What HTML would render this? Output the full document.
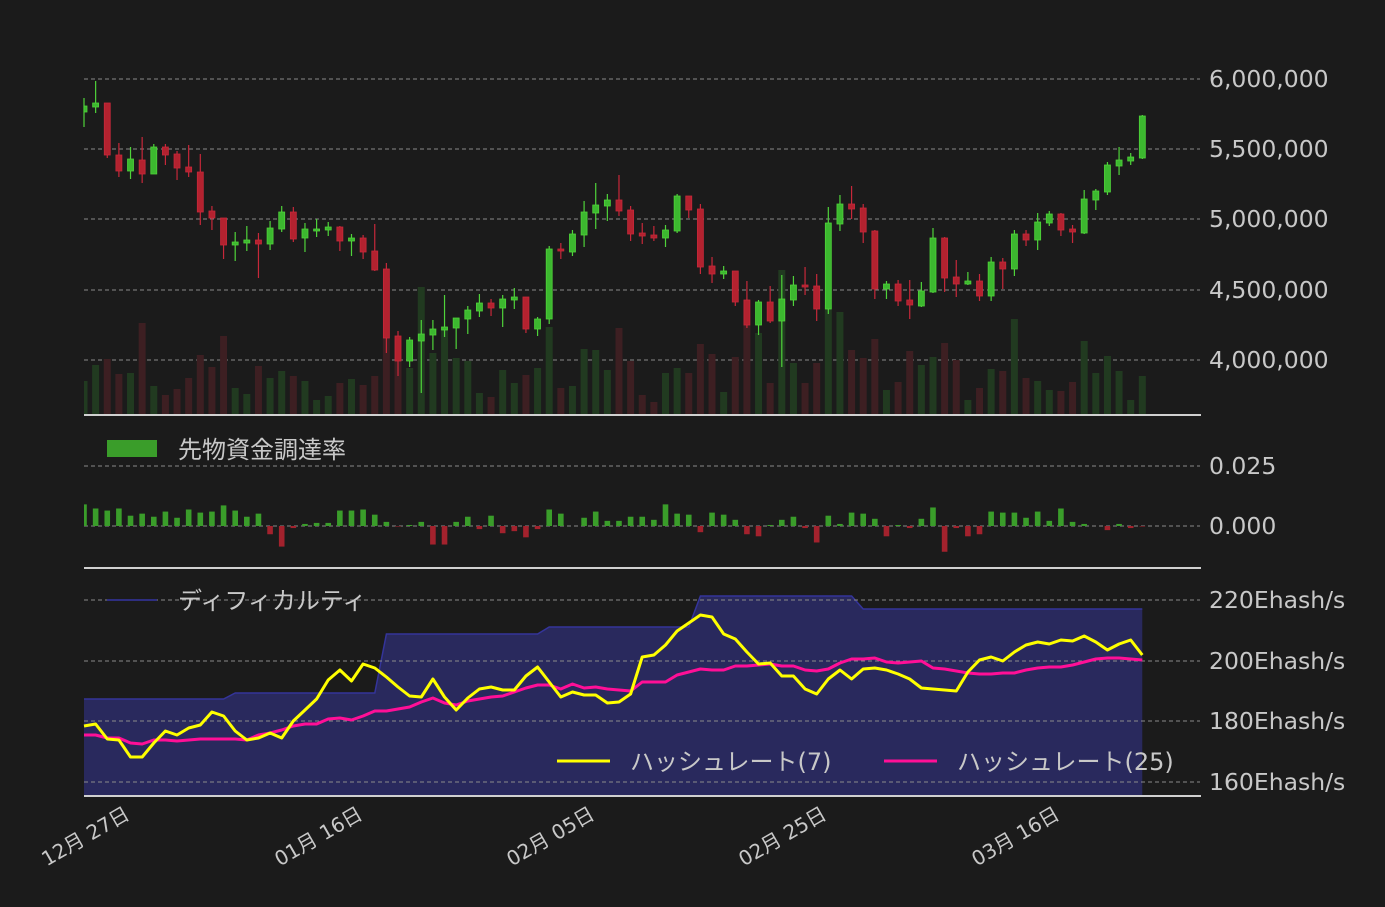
<!DOCTYPE html>
<html><head><meta charset="utf-8">
<style>
html,body{margin:0;padding:0;background:#1b1b1b;}
svg{display:block;}
text{font-family:"DejaVu Sans","Noto Sans CJK JP",sans-serif;fill:#c8c8c8;}
</style></head>
<body>
<svg id="s" width="1385" height="907" xmlns="http://www.w3.org/2000/svg">
<rect width="1385" height="907" fill="#1b1b1b"/>
<g id="g"></g>
<g font-size="23.5">
<text x="1209" y="87">6,000,000</text>
<text x="1209" y="157">5,500,000</text>
<text x="1209" y="227">5,000,000</text>
<text x="1209" y="298">4,500,000</text>
<text x="1209" y="368">4,000,000</text>
<text x="1209" y="474">0.025</text>
<text x="1209" y="534">0.000</text>
<text x="1209" y="608">220Ehash/s</text>
<text x="1209" y="669">200Ehash/s</text>
<text x="1209" y="729">180Ehash/s</text>
<text x="1209" y="790">160Ehash/s</text>
</g>
<g font-size="24">
<rect x="107" y="440" width="50" height="17" fill="#3a9d2a"/>
<text x="178" y="458">先物資金調達率</text>
<line x1="107" y1="600" x2="157" y2="600" stroke="#2e2e80" stroke-width="2"/>
<text x="178" y="609">ディフィカルティ</text>
<line x1="557" y1="761" x2="610" y2="761" stroke="#ffff00" stroke-width="3"/>
<text x="630" y="770">ハッシュレート(7)</text>
<line x1="884" y1="761" x2="937" y2="761" stroke="#ff0f97" stroke-width="3"/>
<text x="957" y="770">ハッシュレート(25)</text>
</g>
<g font-size="20">
<text transform="translate(131,818) rotate(-30)" text-anchor="end">12月 27日</text>
<text transform="translate(364,818) rotate(-30)" text-anchor="end">01月 16日</text>
<text transform="translate(596,818) rotate(-30)" text-anchor="end">02月 05日</text>
<text transform="translate(828,818) rotate(-30)" text-anchor="end">02月 25日</text>
<text transform="translate(1061,818) rotate(-30)" text-anchor="end">03月 16日</text>
</g>
</svg>
<script>
var C=[[112,106,98,127],[107,103,81,113],[103,155,103,158],[155,171,143,177],[171,159,147,179],[160,174,137,183],[174,147,144,174],[147,155,144,165],[154,168,151,180],[167,172,145,177],[172,212,154,225],[211,218,206,230],[218,245,218,259],[245,242,232,261],[243,240,226,251],[240,244,233,278],[244,228,221,250],[229,212,206,232],[212,239,207,242],[238,229,223,252],[230,229,219,237],[230,227,222,236],[227,241,226,251],[241,238,234,256],[238,252,235,259],[251,270,224,271],[269,338,263,353],[336,361,331,376],[361,340,337,367],[341,334,320,393],[335,329,320,350],[330,327,295,337],[328,318,318,349],[319,310,306,334],[311,303,294,317],[303,308,299,316],[308,299,295,327],[300,297,288,309],[297,329,297,333],[329,319,317,336],[319,249,246,324],[249,251,243,259],[252,234,230,256],[235,212,201,247],[213,205,183,229],[206,200,194,221],[200,211,175,216],[210,234,206,241],[233,236,223,244],[235,238,226,241],[238,230,225,247],[231,196,194,233],[196,210,196,218],[209,267,204,274],[266,274,257,283],[274,271,266,279],[271,302,271,306],[300,325,281,328],[325,302,300,335],[302,321,286,323],[321,299,275,367],[300,285,276,306],[285,287,267,295],[286,309,274,321],[309,223,207,314],[224,204,195,231],[204,209,186,219],[208,232,204,243],[231,289,230,299],[289,284,281,299],[284,301,280,306],[300,305,280,319],[306,291,282,307],[292,238,228,293],[238,278,237,292],[277,284,260,297],[284,281,272,285],[281,296,274,301],[296,262,257,301],[262,269,258,289],[269,234,230,276],[234,240,230,246],[240,222,213,250],[223,214,211,226],[214,230,213,236],[229,232,225,243],[233,199,190,234],[200,191,189,210],[192,165,162,195],[166,160,147,175],[161,157,153,165],[158,116,115,159]];
var V=[381,365,359,374,373,323,386,395,389,378,355,367,336,388,394,366,378,371,376,381,400,396,383,379,385,376,278,340,368,287,353,330,358,361,393,397,370,383,375,368,327,388,386,349,350,370,328,361,395,402,373,368,373,344,354,392,357,325,333,383,270,363,383,363,305,312,350,358,339,390,382,351,365,357,343,360,400,388,369,371,319,378,381,390,391,382,341,373,356,371,400,376];
var F=[21,17,15,17,10,12,9,14,8,16,13,14,20,15,9,12,-8,-20,-2,2,3,3,15,15,16,11,4,-0.5,1,4,-18,-18,4,9,-3,10,-7,-5,-11,-3,16,12,0,8,14,5,5,9,9,6,21,12,11,-6,13,11,6,-8,-10,1,6,9,-2,-16,10,2,13,12,7,-10,1,-2,7,18,-25,-2,-10,-8,14,13,13,8,14,5,17,4,2,0,-4,2,-2,-0.5];
var Y=[726,724,739,740,757,757,743,731,735,728,725,712,716,731,740,738,733,738,721,710,699,680,670,681,664,668,677,687,696,697,679,697,710,698,689,687,690,690,676,667,682,697,692,695,695,703,702,694,657,655,645,631,623,615,617,634,639,652,664,663,676,676,689,694,679,670,679,669,668,670,674,679,688,689,690,691,672,660,657,661,652,645,642,644,640,641,636,642,650,644,640,655];
var P=[735,735,738,738,743,744,740,740,741,740,739,739,739,739,740,735,733,730,726,724,724,719,718,720,716,711,711,709,707,702,698,703,705,701,699,697,696,692,688,685,685,689,684,688,687,689,690,691,682,682,682,675,672,669,670,670,666,666,665,664,666,666,670,671,669,663,659,659,658,662,663,662,661,668,669,671,673,674,674,673,673,670,668,667,667,665,662,659,658,658,659,660];
function X(i){return 84+11.63*i;}
var s='';
function grid(y){s+='<line x1="84" y1="'+y+'" x2="1200" y2="'+y+'" stroke="#8a8a8a" stroke-width="1" stroke-dasharray="4,3"/>';}
[79,149,219,290,360,466,526].forEach(grid);
for(var i=0;i<92;i++){var red=C[i][1]>C[i][0];var x=X(i);var x0=Math.max(84,x-3.5);
s+='<rect x="'+x0+'" y="'+V[i]+'" width="'+(x+3.5-x0)+'" height="'+(415-V[i])+'" fill="'+(red?'#3d1f22':'#213a20')+'"/>';}
for(var i=0;i<92;i++){var c=C[i];var red=c[1]>c[0];var x=X(i);var col=red?'#b3222f':'#3cb82f';var st=red?'#c7283a':'#4fd33a';
var t=Math.min(c[0],c[1]),b=Math.max(c[0],c[1]);if(b-t<2){b=t+2;}
s+='<line x1="'+x+'" y1="'+c[2]+'" x2="'+x+'" y2="'+c[3]+'" stroke="'+st+'" stroke-width="1.2"/>';
var x0=Math.max(84,x-3);
s+='<rect x="'+x0+'" y="'+t+'" width="'+(x+3-x0)+'" height="'+(b-t)+'" fill="'+col+'" stroke="'+st+'" stroke-width="0.8"/>';}
for(var i=0;i<92;i++){var h=F[i]*1.03;var x=X(i);var x0=Math.max(84,x-2.8);
if(h>=0)s+='<rect x="'+x0+'" y="'+(526-h)+'" width="'+(x+2.8-x0)+'" height="'+h+'" fill="#3a9d2a"/>';
else s+='<rect x="'+x0+'" y="526" width="'+(x+2.8-x0)+'" height="'+(-h)+'" fill="#a3222d"/>';}
var lv=[[0,699],[13,693],[26,634],[40,627],[53,596],[67,609]];
function dy(i){var y=699;for(var k=0;k<lv.length;k++){if(i>=lv[k][0])y=lv[k][1];}return y;}
var pts=[];for(var i=0;i<92;i++){pts.push(X(i).toFixed(1)+','+dy(i));}
s+='<polygon points="84,796 '+pts.join(' ')+' '+X(91).toFixed(1)+',796" fill="#29295d"/>';
s+='<polyline points="'+pts.join(' ')+'" fill="none" stroke="#34349a" stroke-width="1.5"/>';
[600,661,721,782].forEach(grid);
function line(A,c){var p=[];for(var i=0;i<A.length;i++)p.push(X(i).toFixed(1)+','+A[i]);
s+='<polyline points="'+p.join(' ')+'" fill="none" stroke="'+c+'" stroke-width="3" stroke-linejoin="round"/>';}
line(P,'#ff0f97');line(Y,'#ffff00');
s+='<line x1="84" y1="415" x2="1201" y2="415" stroke="#d0d0d0" stroke-width="2"/>';
s+='<line x1="84" y1="568" x2="1201" y2="568" stroke="#d0d0d0" stroke-width="2"/>';
s+='<line x1="84" y1="796" x2="1201" y2="796" stroke="#d0d0d0" stroke-width="2"/>';
document.getElementById('g').innerHTML=s;
</script>
</body></html>
